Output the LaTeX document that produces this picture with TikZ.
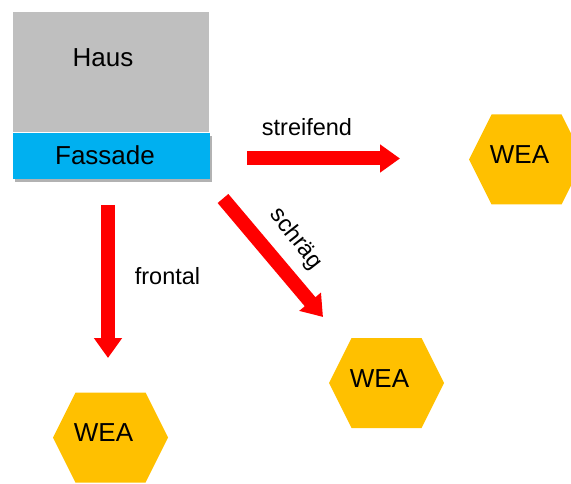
\documentclass[tikz,border=0pt]{standalone}
\usepackage{fontspec}
\setmainfont{Liberation Sans}
\usepackage{xcolor}
\usetikzlibrary{arrows.meta,shadows}

\definecolor{hausgray}{HTML}{BFBFBF}
\definecolor{fassadeblue}{HTML}{00B0F0}
\definecolor{weaorange}{HTML}{FFC000}

\tikzset{
    bigtext/.style={font=\fontsize{26}{30}\selectfont, inner sep=0pt},
    smalltext/.style={font=\fontsize{23.5}{28}\selectfont, inner sep=0pt},
    richtung/.style={red, line width=14pt, -{Triangle[length=20pt,width=27pt]}}
}

\begin{document}
\begin{tikzpicture}[x=1pt,y=-1pt]
        \useasboundingbox (0,0) rectangle (571,484);

        % Haus mit Fassade
        \node[fill=hausgray, minimum width=196pt, minimum height=120pt, anchor=north west, inner sep=0pt] (haus) at (13,12) {};
        \node[bigtext] (haustext) at (103,58) {Haus};
        \node[fill=fassadeblue, minimum width=197pt, minimum height=46pt, anchor=north west, inner sep=0pt,
              drop shadow={shadow xshift=2pt, shadow yshift=-3pt, opacity=0.3, fill=black}] (fassade) at (13,132.5) {};
        \node[bigtext] (fassadetext) at (105,155) {Fassade};

        % WEA
        \foreach \n/\x/\y in {weaR/526.5/159.5, weaM/386.5/383, weaL/110.5/437.5}
        {
            \fill[weaorange] (\x-57.5,\y) -- (\x-35,\y-45) -- (\x+35,\y-45)
                -- (\x+57.5,\y) -- (\x+35,\y+45) -- (\x-35,\y+45) -- cycle;
            \node[bigtext] (\n) at (\x-7,\y-4.5) {WEA};
        }

        % Richtungen
        \coordinate[label={[smalltext]center:streifend}] (S) at (307,127.5);
        \coordinate (S1) at (247,158.5);
        \coordinate (S2) at (400,158.5);
        \draw[richtung] (S1)--(S2);

        \coordinate[label={[smalltext]center:frontal}] (F) at (167.5,276.5);
        \coordinate (F1) at (108,205);
        \coordinate (F2) at (108,358);
        \draw[richtung] (F1)--(F2);

        \coordinate[label={[smalltext,rotate=-52]center:schräg}] (Q) at (296,239);
        \coordinate (Q1) at (223,198.5);
        \coordinate (Q2) at (323,317);
        \draw[richtung] (Q1)--(Q2);
    \end{tikzpicture}
\end{document}
